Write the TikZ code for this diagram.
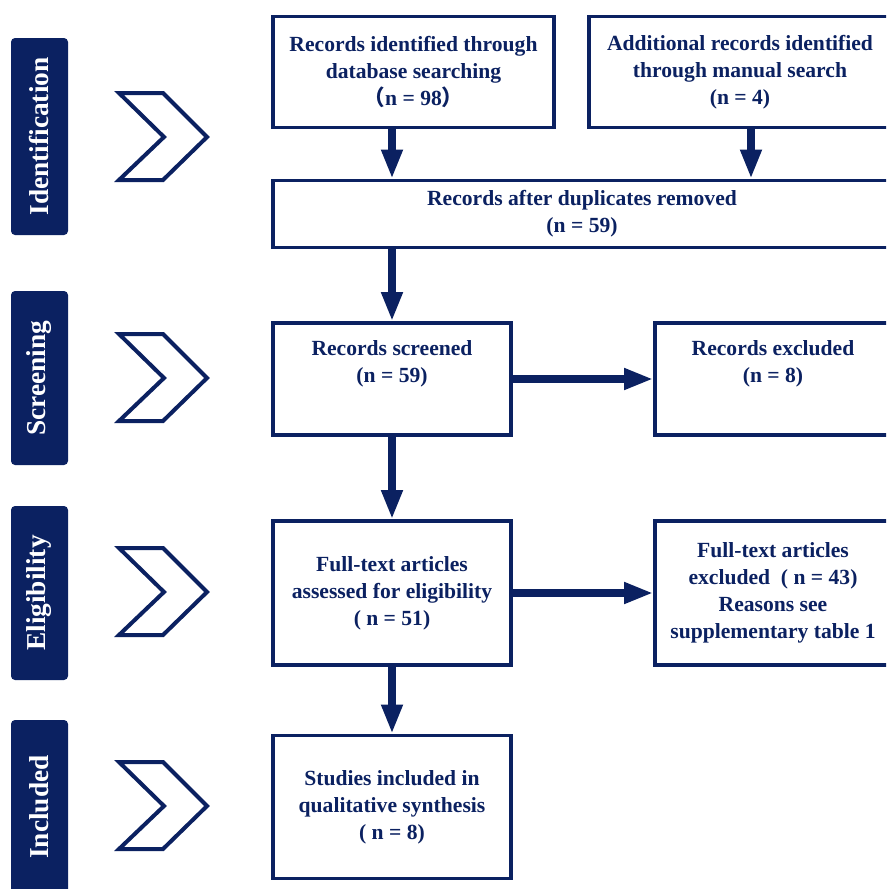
\documentclass[tikz,border=0pt]{standalone}
\usepackage{fontspec}
\setmainfont{Liberation Serif}
\newfontfamily\cjk{Noto Sans CJK SC}
\usetikzlibrary{arrows.meta,calc}
\definecolor{cNavy}{HTML}{0B2161}

\begin{document}
\begin{tikzpicture}[
  x=0.75pt, y=-0.75pt,
  % one colour only: navy boxes, arrows and phase bars
  box/.style={draw=cNavy, line width=2.5pt, fill=white, align=center,
              text=cNavy, inner sep=0pt,
              font=\fontsize{16.2}{20.2}\selectfont\bfseries},
  bar/.style={fill=cNavy, rounded corners=3pt, text=white, rotate=90,
              minimum height=42.75pt, inner sep=0pt,
              font=\fontsize{20.5}{22}\selectfont\bfseries},
  arr/.style={-{Triangle[length=22pt,width=15pt]}, line width=5.5pt, cNavy},
  chev/.style={draw=cNavy, line width=3pt, line join=miter},
  chevron/.pic={\draw[chev] (-44,-44) -- (0,-44) -- (44,0) -- (0,43)
                -- (-44,43) -- (1,0) -- cycle;},
]
\useasboundingbox (0,0) rectangle (886,889);
\clip (0,0) rectangle (886,889);

% -- phase bars + chevrons --
\node[bar, minimum width=147.75pt] (phId)  at (39.5,136.5) {Identification};
\node[bar, minimum width=130.5pt]  (phScr) at (39.5,378)   {Screening};
\node[bar, minimum width=130.5pt]  (phEl)  at (39.5,593)   {Eligibility};
\node[bar, minimum width=130.5pt]  (phInc) at (39.5,807)   {Included};
\foreach \y in {137,378,592,806}
  \pic at (163,\y) {chevron};

% -- identification --
\node[box, minimum width=210.75pt, minimum height=83.25pt] (idDb) at (413.5,72)
  {Records identified through\\database searching\\{\cjk （}n = 98{\cjk ）}};
\node[box, minimum width=226.5pt, minimum height=83.25pt] (idMan) at (740,72)
  {Additional records identified\\through manual search\\(n = 4)};
\node[box, minimum width=463.5pt, minimum height=50.25pt] (dedup) at (582,214)
  {Records after duplicates removed\\(n = 59)};

% -- screening / eligibility / included --
\node[box, minimum width=178.5pt, minimum height=84pt] (scr) at (392,379)
  {Records screened\\(n = 59)\\\strut};
\node[box, minimum width=177pt, minimum height=84pt] (scrEx) at (773,379)
  {Records excluded\\(n = 8)\\\strut};
\node[box, minimum width=178.5pt, minimum height=108pt] (full) at (392,593)
  {Full-text articles\\assessed for eligibility\\( n = 51)};
\node[box, minimum width=177pt, minimum height=108pt] (fullEx) at (773,593)
  {Full-text articles\\excluded\ \ ( n = 43)\\Reasons see\\supplementary table 1};
\node[box, minimum width=178.5pt, minimum height=107.25pt] (incl) at (392,807)
  {Studies included in\\qualitative synthesis\\( n = 8)};

% -- arrows --
\coordinate (manOut) at ($(idMan.south)+(11,0)$);
\draw[arr] (idDb.south -| scr.north) -- (dedup.north -| scr.north);
\draw[arr] (manOut) -- (manOut |- dedup.north);
\draw[arr] (dedup.south -| scr.north) -- (scr.north);
\draw[arr] (scr.east) -- (scrEx.west);
\draw[arr] (scr.south) -- (full.north);
\draw[arr] (full.east) -- (fullEx.west);
\draw[arr] (full.south) -- (incl.north);
\end{tikzpicture}
\end{document}
